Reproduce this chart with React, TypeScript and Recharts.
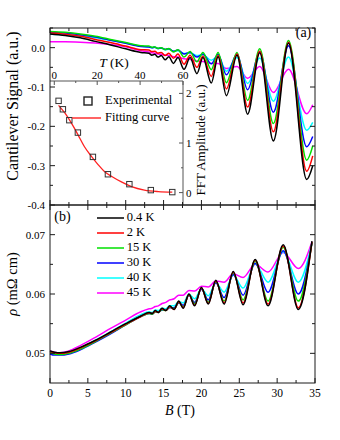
import { LineChart, Line, XAxis, YAxis, ComposedChart, Scatter, Legend } from 'recharts'

const SERIF = '"Liberation Serif", "Times New Roman", serif'
const INK = '#1a1a1a'

// legend / series
const temps = ['0.4 K', '2 K', '15 K', '30 K', '40 K', '45 K']
const colors = ['#000000', '#ff0000', '#00e000', '#0000ff', '#00ffff', '#ff00ff']

// (a) cantilever signal vs B
const fieldA = [0, 2, 4, 6, 8, 10, 12, 13.05, 13.45, 13.85, 14.25, 14.7, 15.2, 15.7, 16.3, 16.9, 17.7, 18.5, 19.4, 20.2, 21.3, 22.2, 23.3, 24.7, 26.1, 27.7, 29.5, 31.5, 33.9, 34.7]
const sig04 = [0.035, 0.031, 0.025, 0.016, 0.007, -0.003, -0.012, -0.014, -0.019, -0.017, -0.024, -0.02, -0.031, -0.023, -0.04, -0.025, -0.055, -0.025, -0.066, -0.025, -0.09, -0.023, -0.122, -0.019, -0.169, -0.013, -0.237, 0.011, -0.335, -0.3]
const sig2 = [0.037, 0.034, 0.029, 0.021, 0.013, 0.004, -0.005, -0.006, -0.01, -0.009, -0.014, -0.012, -0.02, -0.014, -0.027, -0.016, -0.042, -0.019, -0.05, -0.021, -0.073, -0.02, -0.105, -0.016, -0.151, -0.009, -0.214, 0.014, -0.314, -0.275]
const sig15 = [0.041, 0.039, 0.035, 0.029, 0.021, 0.013, 0.005, 0.004, 0.001, 0.002, -0.002, 0, -0.005, -0.002, -0.011, -0.005, -0.024, -0.01, -0.036, -0.012, -0.056, -0.012, -0.089, -0.012, -0.134, -0.003, -0.193, 0.018, -0.286, -0.25]
const sig30 = [0.039, 0.037, 0.033, 0.027, 0.019, 0.011, 0.003, 0.002, 0, 0.001, -0.002, -0.001, -0.004, -0.003, -0.009, -0.006, -0.016, -0.012, -0.024, -0.016, -0.041, -0.017, -0.069, -0.016, -0.107, -0.01, -0.164, 0.005, -0.252, -0.226]
const sig40 = [0.034, 0.033, 0.03, 0.025, 0.019, 0.012, 0.004, 0.002, 0, 0.001, -0.002, -0.001, -0.005, -0.004, -0.009, -0.008, -0.015, -0.013, -0.02, -0.018, -0.032, -0.022, -0.06, -0.025, -0.091, -0.026, -0.136, -0.024, -0.21, -0.19]
const sig45 = [0.015, 0.015, 0.014, 0.012, 0.008, 0.002, -0.008, -0.011, -0.013, -0.014, -0.016, -0.017, -0.019, -0.02, -0.023, -0.024, -0.028, -0.03, -0.034, -0.035, -0.04, -0.04, -0.053, -0.048, -0.078, -0.048, -0.114, -0.055, -0.168, -0.145]

// (b) resistivity vs B
const fieldB = [0, 0.6, 1.3, 2.5, 4, 6, 8, 10, 12, 13.1, 13.5, 13.9, 14.3, 14.8, 15.3, 15.8, 16.4, 17.0, 17.6, 18.35, 19.1, 20.0, 20.9, 21.9, 23.0, 24.2, 25.5, 27.1, 28.8, 30.8, 32.8, 34.6]
const rho04 = [0.0504, 0.0502, 0.0501, 0.0503, 0.051, 0.0522, 0.0536, 0.055, 0.0563, 0.0569, 0.0567, 0.0572, 0.0569, 0.0576, 0.0572, 0.058, 0.0574, 0.0588, 0.0576, 0.06, 0.058, 0.0611, 0.0583, 0.0623, 0.0583, 0.0638, 0.0582, 0.0658, 0.058, 0.0683, 0.0574, 0.0689]
const rho2 = [0.0503, 0.0501, 0.05, 0.0502, 0.0509, 0.0521, 0.0535, 0.0549, 0.0562, 0.0568, 0.0567, 0.0571, 0.0569, 0.0575, 0.0572, 0.0579, 0.0574, 0.0587, 0.0577, 0.0599, 0.0581, 0.061, 0.0584, 0.0622, 0.0585, 0.0637, 0.0585, 0.0657, 0.0583, 0.0681, 0.0577, 0.0688]
const rho15 = [0.0501, 0.0499, 0.0498, 0.05, 0.0507, 0.052, 0.0534, 0.0548, 0.0562, 0.0567, 0.0566, 0.057, 0.0569, 0.0574, 0.0572, 0.0578, 0.0575, 0.0586, 0.0578, 0.0599, 0.0583, 0.061, 0.0586, 0.0621, 0.0588, 0.0636, 0.059, 0.0655, 0.0588, 0.0679, 0.0588, 0.0687]
const rho30 = [0.0499, 0.0497, 0.0497, 0.0499, 0.0506, 0.0519, 0.0533, 0.0548, 0.0562, 0.0567, 0.0566, 0.057, 0.0569, 0.0573, 0.0573, 0.0577, 0.0577, 0.0585, 0.0581, 0.0598, 0.0586, 0.0608, 0.059, 0.0619, 0.0594, 0.0633, 0.0598, 0.0652, 0.0603, 0.0673, 0.06, 0.0686]
const rho40 = [0.0502, 0.05, 0.05, 0.0502, 0.0509, 0.0522, 0.0536, 0.0551, 0.0565, 0.057, 0.0569, 0.0573, 0.0572, 0.0576, 0.0575, 0.058, 0.058, 0.0587, 0.0585, 0.06, 0.0592, 0.0609, 0.0597, 0.0619, 0.0603, 0.0632, 0.061, 0.0651, 0.062, 0.0671, 0.062, 0.0686]
const rho45 = [0.0504, 0.0502, 0.0501, 0.0504, 0.0513, 0.0527, 0.0542, 0.0556, 0.057, 0.0575, 0.0576, 0.0579, 0.058, 0.0584, 0.0586, 0.059, 0.0592, 0.0598, 0.0598, 0.0606, 0.0605, 0.0613, 0.0612, 0.0622, 0.062, 0.0634, 0.0628, 0.065, 0.0637, 0.067, 0.0643, 0.0688]

// inset: FFT amplitude vs T
const tempExp = [2, 4, 7, 11, 18, 25, 35, 45, 55]
const ampExp = [1.85, 1.68, 1.46, 1.21, 0.72, 0.37, 0.17, 0.05, 0.01]
const tempFit = [2, 5, 8, 11, 14, 17.5, 20.5, 23.5, 27, 31.5, 36, 42, 48.5, 55]
const ampFit = [1.76, 1.6, 1.4, 1.17, 0.93, 0.72, 0.56, 0.42, 0.32, 0.21, 0.12, 0.05, 0.02, 0.01]

// ticks
const bTicks = [0, 2.5, 5, 7.5, 10, 12.5, 15, 17.5, 20, 22.5, 25, 27.5, 30, 32.5, 35]
const sigTicks = [-0.4, -0.35, -0.3, -0.25, -0.2, -0.15, -0.1, -0.05, 0, 0.05]
const rhoTicks = [0.05, 0.055, 0.06, 0.065, 0.07]
const tTicks = [0, 10, 20, 30, 40, 50, 60]
const ampTicks = [0, 0.5, 1, 1.5, 2]

const sigSeries = [sig04, sig2, sig15, sig30, sig40, sig45]
const rhoSeries = [rho04, rho2, rho15, rho30, rho40, rho45]

const toRows = (field: number[], series: number[][]) =>
  field.map((B, i) => {
    const row: Record<string, number> = { B }
    series.forEach((s, k) => (row['s' + k] = s[i]))
    return row
  })

const rowsA = toRows(fieldA, sigSeries)
const rowsB = toRows(fieldB, rhoSeries)
const expData = tempExp.map((T, i) => ({ T, amp: ampExp[i] }))
const fitData = tempFit.map((T, i) => ({ T, amp: ampFit[i] }))

// frame geometry
const LEFT = 50
const RIGHT = 315
const TOP = 28
const MID = 205
const BOTTOM = 383
const INSET_RIGHT = 183
const INSET_TOP = 81
const AX = 20 // size given to the label-less axes (ticks are drawn by hand)

const isMult = (v: number, step: number) => Math.abs(v / step - Math.round(v / step)) < 1e-6

const sigLabel = (v: number) => (isMult(v, 0.1) && v < 0.01 ? v.toFixed(1) : '')
const rhoLabel = (v: number) => (isMult(v, 0.01) ? v.toFixed(2) : '')
const bLabel = (v: number) => (isMult(v, 5) ? String(v) : '')

// inward ticks on left and right edge, label to the left
const yTick = (right: number, label: (v: number) => string) => (p: any) => {
  const t = label(p.payload.value)
  const len = t ? 5 : 3
  return (
    <g>
      <line x1={p.x} x2={p.x + len} y1={p.y} y2={p.y} stroke={INK} />
      <line x1={right - len} x2={right} y1={p.y} y2={p.y} stroke={INK} />
      {t && (
        <text x={p.x - 5} y={p.y + 4} textAnchor="end" fontSize={11} fontFamily={SERIF} fill="#000">
          {t}
        </text>
      )}
    </g>
  )
}

// inward ticks on bottom and top edge
const xTick = (top: number, withText: boolean) => (p: any) => {
  const t = bLabel(p.payload.value)
  const len = t ? 5 : 3
  return (
    <g>
      <line x1={p.x} x2={p.x} y1={p.y} y2={p.y - len} stroke={INK} />
      <line x1={p.x} x2={p.x} y1={top} y2={top + len} stroke={INK} />
      {withText && t && (
        <text x={p.x} y={p.y + 14} textAnchor="middle" fontSize={11.5} fontFamily={SERIF} fill="#000">
          {t}
        </text>
      )}
    </g>
  )
}

const tTick = (p: any) => {
  const major = isMult(p.payload.value, 20)
  return (
    <g>
      <line x1={p.x} x2={p.x} y1={p.y} y2={p.y + (major ? 4 : 2)} stroke="#555" />
      {major && (
        <text x={p.x} y={p.y - 2} textAnchor="middle" fontSize={11} fontFamily={SERIF} fill="#000">
          {p.payload.value}
        </text>
      )}
    </g>
  )
}

const ampTick = (p: any) => {
  const major = isMult(p.payload.value, 1)
  return (
    <g>
      <line x1={p.x} x2={p.x - (major ? 4 : 2)} y1={p.y} y2={p.y} stroke="#555" />
      {major && (
        <text x={p.x + 3} y={p.y + 4} textAnchor="start" fontSize={11} fontFamily={SERIF} fill="#000">
          {p.payload.value}
        </text>
      )}
    </g>
  )
}

const tempLegend = () => (
  <div style={{ fontFamily: SERIF, fontSize: 12.5, color: '#000' }}>
    {temps.map((name, k) => (
      <div key={name} style={{ display: 'flex', alignItems: 'center', height: 15 }}>
        <svg width={27} height={4}>
          <line x1={0} x2={27} y1={2} y2={2} stroke={colors[k]} strokeWidth={1.5} />
        </svg>
        <span style={{ marginLeft: 3 }}>{name}</span>
      </div>
    ))}
  </div>
)

const insetLegend = () => (
  <div style={{ fontFamily: SERIF, fontSize: 12.5, color: '#000' }}>
    <div style={{ display: 'flex', alignItems: 'center', height: 17 }}>
      <svg width={29} height={10}>
        <rect x={12} y={1} width={8} height={8} fill="none" stroke="#222" strokeWidth={1.4} />
      </svg>
      <span style={{ marginLeft: 4 }}>Experimental</span>
    </div>
    <div style={{ display: 'flex', alignItems: 'center', height: 17 }}>
      <svg width={29} height={4}>
        <line x1={0} x2={29} y1={2} y2={2} stroke="#ff3030" strokeWidth={1.5} />
      </svg>
      <span style={{ marginLeft: 4 }}>Fitting curve</span>
    </div>
  </div>
)

const layer = { position: 'absolute' as const, left: 0, top: 0 }

export default function App() {
  const order = [5, 4, 3, 2, 1, 0]
  return (
    <div style={{ position: 'absolute', left: 0, top: 0, width: 340, height: 440, background: '#fff' }}>
      {/* inset */}
      <div style={layer}>
        <ComposedChart
          width={340}
          height={440}
          margin={{ top: INSET_TOP - AX, right: 340 - INSET_RIGHT - AX, bottom: 440 - MID, left: LEFT }}
        >
          <XAxis
            xAxisId="t"
            orientation="top"
            dataKey="T"
            type="number"
            domain={[-2, 60]}
            ticks={tTicks}
            interval={0}
            height={AX}
            tickSize={0}
            tickMargin={0}
            tickLine={false}
            axisLine={{ stroke: '#555' }}
            tick={tTick}
          />
          <YAxis
            yAxisId="a"
            orientation="right"
            dataKey="amp"
            type="number"
            domain={[-0.25, 2.25]}
            ticks={ampTicks}
            interval={0}
            width={AX}
            tickSize={0}
            tickMargin={0}
            tickLine={false}
            axisLine={{ stroke: '#555' }}
            tick={ampTick}
          />
          <Line
            xAxisId="t"
            yAxisId="a"
            data={fitData}
            dataKey="amp"
            type="monotone"
            stroke="#ff2020"
            strokeWidth={1.3}
            dot={false}
            activeDot={false}
            isAnimationActive={false}
          />
          <Scatter
            xAxisId="t"
            yAxisId="a"
            data={expData}
            dataKey="amp"
            isAnimationActive={false}
            shape={(p: any) => (
              <rect x={p.cx - 2.7} y={p.cy - 2.7} width={5.4} height={5.4} fill="none" stroke="#333" strokeWidth={1} />
            )}
          />
          <Legend
            layout="vertical"
            align="center"
            verticalAlign="middle"
            wrapperStyle={{ left: 72, top: 92, width: 'auto' }}
            content={insetLegend}
          />
        </ComposedChart>
      </div>

      {/* (a) cantilever signal */}
      <div style={layer}>
        <LineChart width={340} height={440} data={rowsA} margin={{ top: TOP, right: 340 - RIGHT, bottom: 440 - MID - AX, left: 0 }}>
          <XAxis
            dataKey="B"
            type="number"
            domain={[0, 35]}
            ticks={bTicks}
            interval={0}
            height={AX}
            tickSize={0}
            tickMargin={0}
            tickLine={false}
            axisLine={false}
            tick={xTick(TOP, false)}
          />
          <YAxis
            type="number"
            domain={[-0.4, 0.05]}
            ticks={sigTicks}
            interval={0}
            width={LEFT}
            tickSize={0}
            tickMargin={0}
            tickLine={false}
            axisLine={false}
            tick={yTick(RIGHT, sigLabel)}
          />
          {order.map((k) => (
            <Line
              key={k}
              dataKey={'s' + k}
              type="monotone"
              stroke={colors[k]}
              strokeWidth={1.5}
              dot={false}
              activeDot={false}
              isAnimationActive={false}
            />
          ))}
        </LineChart>
      </div>

      {/* (b) resistivity */}
      <div style={layer}>
        <LineChart width={340} height={440} data={rowsB} margin={{ top: MID, right: 340 - RIGHT, bottom: 440 - BOTTOM - AX, left: 0 }}>
          <XAxis
            dataKey="B"
            type="number"
            domain={[0, 35]}
            ticks={bTicks}
            interval={0}
            height={AX}
            tickSize={0}
            tickMargin={0}
            tickLine={false}
            axisLine={false}
            tick={xTick(MID, true)}
          />
          <YAxis
            type="number"
            domain={[0.045, 0.075]}
            ticks={rhoTicks}
            interval={0}
            width={LEFT}
            tickSize={0}
            tickMargin={0}
            tickLine={false}
            axisLine={false}
            tick={yTick(RIGHT, rhoLabel)}
          />
          {order.map((k) => (
            <Line
              key={k}
              dataKey={'s' + k}
              type="monotone"
              stroke={colors[k]}
              strokeWidth={1.5}
              dot={false}
              activeDot={false}
              isAnimationActive={false}
            />
          ))}
          <Legend
            layout="vertical"
            align="center"
            verticalAlign="middle"
            wrapperStyle={{ left: 96.7, top: 210, width: 'auto' }}
            content={tempLegend}
          />
        </LineChart>
      </div>

      {/* frames and titles */}
      <svg width={340} height={440} style={{ ...layer, pointerEvents: 'none' }} fontFamily={SERIF}>
        <rect x={LEFT} y={TOP} width={RIGHT - LEFT} height={MID - TOP} fill="none" stroke={INK} />
        <rect x={LEFT} y={MID} width={RIGHT - LEFT} height={BOTTOM - MID} fill="none" stroke={INK} />
        <text transform="translate(18,106) rotate(-90)" textAnchor="middle" fontSize={16} fill="#000">
          Cantilever Signal (a.u.)
        </text>
        <text transform="translate(17,284) rotate(-90)" textAnchor="middle" fontSize={14.5} fill="#000">
          <tspan fontStyle="italic">ρ</tspan> (mΩ cm)
        </text>
        <text transform="translate(205,140) rotate(-90)" textAnchor="middle" fontSize={13} fill="#000">
          FFT Amplitude (a.u.)
        </text>
        <text x={180} y={415} textAnchor="middle" fontSize={14} fill="#000">
          <tspan fontStyle="italic">B</tspan> (T)
        </text>
        <text x={114} y={67} textAnchor="middle" fontSize={13.5} fill="#000">
          <tspan fontStyle="italic">T</tspan> (K)
        </text>
        <text x={303.5} y={37} textAnchor="middle" fontSize={14} fill="#000">
          (a)
        </text>
        <text x={62.5} y={221} textAnchor="middle" fontSize={14} fill="#000">
          (b)
        </text>
      </svg>
    </div>
  )
}
